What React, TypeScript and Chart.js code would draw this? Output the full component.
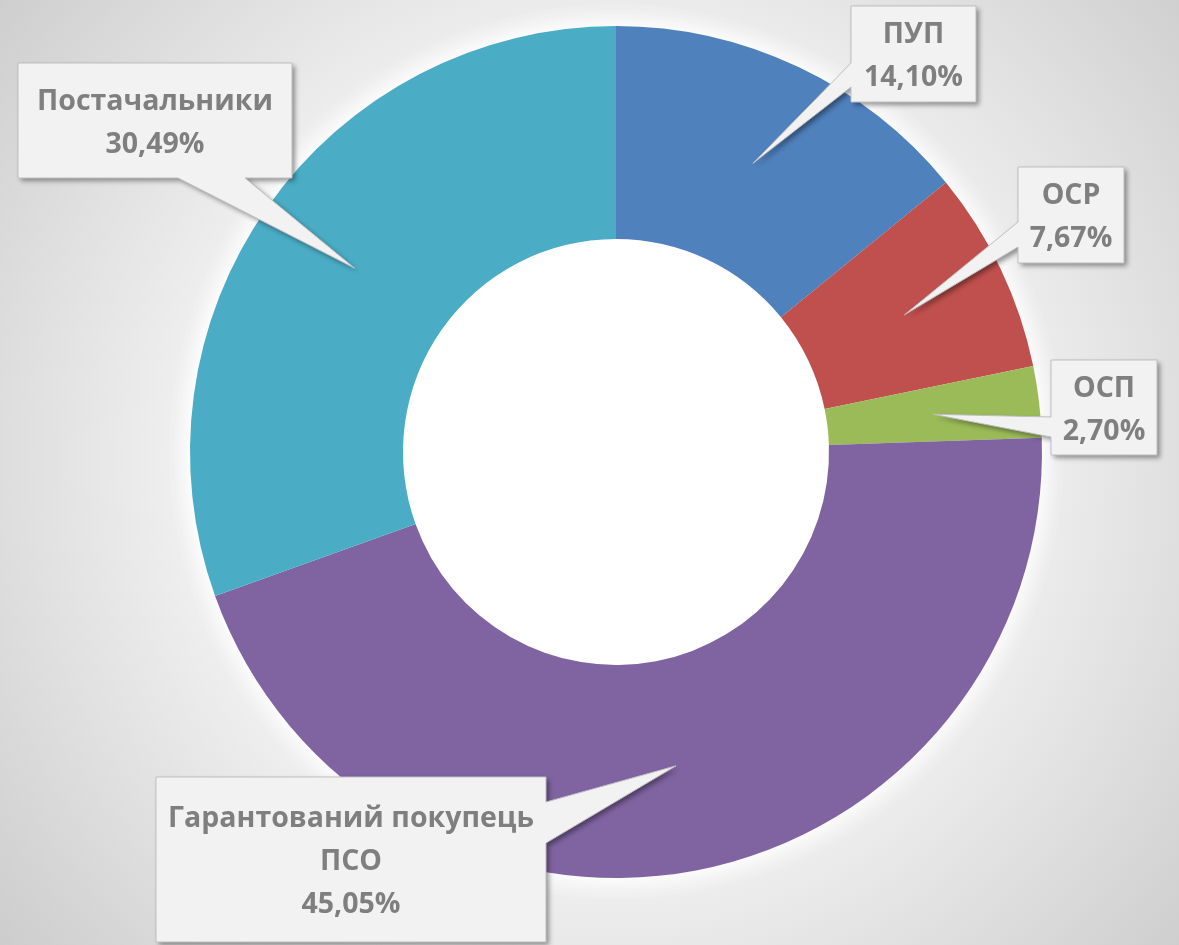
import React, { useEffect, useRef } from "react";
import { Chart, registerables } from "chart.js";

Chart.register(...registerables);

const categories = ["ПУП", "ОСР", "ОСП", "Гарантований покупець ПСО", "Постачальники"];
const values = [14.1, 7.67, 2.7, 45.05, 30.49];
const percentLabels = ["14,10%", "7,67%", "2,70%", "45,05%", "30,49%"];
const nameLines = [["ПУП"], ["ОСР"], ["ОСП"], ["Гарантований покупець", "ПСО"], ["Постачальники"]];
const colors = ["#4F81BD", "#C0504D", "#9BBB59", "#8064A2", "#4BACC6"];

// callout box layout (annotation positions)
const callouts = [
  { x: 851, y: 6, w: 125, h: 96, side: "left", b0: 63, b1: 87 },
  { x: 1018, y: 167, w: 106, h: 96, side: "left", b0: 222, b1: 247 },
  { x: 1051, y: 360, w: 106, h: 95, side: "left", b0: 417, b1: 437 },
  { x: 156, y: 777, w: 390, h: 165, side: "right", b0: 802, b1: 843 },
  { x: 18, y: 63, w: 274, h: 115, side: "bottom", b0: 178, b1: 245 },
];

const FONT = "bold 28.5px 'Open Sans', 'Noto Sans', sans-serif";

function calloutPath(ctx: CanvasRenderingContext2D, c: any, tx: number, ty: number) {
  const { x, y, w, h } = c;
  ctx.beginPath();
  if (c.side === "left") {
    ctx.moveTo(x, y);
    ctx.lineTo(x + w, y);
    ctx.lineTo(x + w, y + h);
    ctx.lineTo(x, y + h);
    ctx.lineTo(x, c.b1);
    ctx.lineTo(tx, ty);
    ctx.lineTo(x, c.b0);
  } else if (c.side === "right") {
    ctx.moveTo(x, y);
    ctx.lineTo(x + w, y);
    ctx.lineTo(x + w, c.b0);
    ctx.lineTo(tx, ty);
    ctx.lineTo(x + w, c.b1);
    ctx.lineTo(x + w, y + h);
    ctx.lineTo(x, y + h);
  } else {
    ctx.moveTo(x, y);
    ctx.lineTo(x + w, y);
    ctx.lineTo(x + w, y + h);
    ctx.lineTo(c.b1, y + h);
    ctx.lineTo(tx, ty);
    ctx.lineTo(c.b0, y + h);
    ctx.lineTo(x, y + h);
  }
  ctx.closePath();
}

const bgPlugin = {
  id: "bgPlugin",
  beforeDraw(chart: any) {
    const ctx = chart.ctx as CanvasRenderingContext2D;
    const w = chart.width, h = chart.height;
    ctx.save();
    const g = ctx.createRadialGradient(600, 460, 0, 600, 460, 820);
    g.addColorStop(0, "#ffffff");
    g.addColorStop(0.45, "#f4f4f4");
    g.addColorStop(1, "#c8c8c8");
    ctx.fillStyle = g;
    ctx.fillRect(0, 0, w, h);
    ctx.restore();
  },
  beforeDatasetsDraw(chart: any) {
    const meta = chart.getDatasetMeta(0);
    const el = meta.data[0];
    if (!el) return;
    const ctx = chart.ctx as CanvasRenderingContext2D;
    ctx.save();
    ctx.shadowColor = "rgba(255,255,255,1)";
    ctx.shadowBlur = 28;
    ctx.fillStyle = "#ffffff";
    for (let i = 0; i < 2; i++) {
      ctx.beginPath();
      ctx.arc(el.x, el.y, el.outerRadius, 0, Math.PI * 2);
      ctx.fill();
    }
    ctx.restore();
  },
};

const calloutPlugin = {
  id: "calloutPlugin",
  afterDatasetsDraw(chart: any) {
    const ctx = chart.ctx as CanvasRenderingContext2D;
    const meta = chart.getDatasetMeta(0);
    meta.data.forEach((arc: any, i: number) => {
      const c = callouts[i];
      const tip = arc.tooltipPosition();
      ctx.save();
      ctx.shadowColor = "rgba(0,0,0,0.4)";
      ctx.shadowBlur = 5;
      ctx.shadowOffsetX = 3;
      ctx.shadowOffsetY = 3;
      ctx.fillStyle = "#f2f2f2";
      calloutPath(ctx, c, tip.x, tip.y);
      ctx.fill();
      ctx.restore();
      ctx.save();
      ctx.strokeStyle = "#bfbfbf";
      ctx.lineWidth = 1;
      calloutPath(ctx, c, tip.x, tip.y);
      ctx.stroke();
      const lines = [...nameLines[i], percentLabels[i]];
      const lh = 43;
      const capH = 21;
      const cx = c.x + c.w / 2;
      const cy = c.y + c.h / 2;
      ctx.font = FONT;
      ctx.fillStyle = "#7f7f7f";
      ctx.textAlign = "center";
      ctx.textBaseline = "alphabetic";
      lines.forEach((t, k) => {
        const by = cy - ((lines.length - 1) * lh) / 2 + capH / 2 + k * lh;
        ctx.fillText(t, cx, by);
      });
      ctx.restore();
    });
  },
};

export default function App() {
  const ref = useRef<HTMLCanvasElement>(null);
  useEffect(() => {
    if (!ref.current) return;
    const chart = new Chart(ref.current, {
      type: "doughnut",
      data: {
        labels: categories,
        datasets: [
          {
            data: values,
            backgroundColor: colors,
            borderWidth: 0,
          },
        ],
      },
      options: {
        responsive: false,
        animation: false,
        cutout: "50%",
        layout: { padding: { left: 190, right: 137, top: 26, bottom: 67 } },
        plugins: {
          legend: { display: false },
          tooltip: { enabled: false },
        },
      },
      plugins: [bgPlugin, calloutPlugin],
    });
    return () => chart.destroy();
  }, []);
  return (
    <div style={{ position: "absolute", left: 0, top: 0, width: 1179, height: 945 }}>
      <canvas ref={ref} width={1179} height={945} style={{ width: 1179, height: 945, display: "block" }} />
    </div>
  );
}
